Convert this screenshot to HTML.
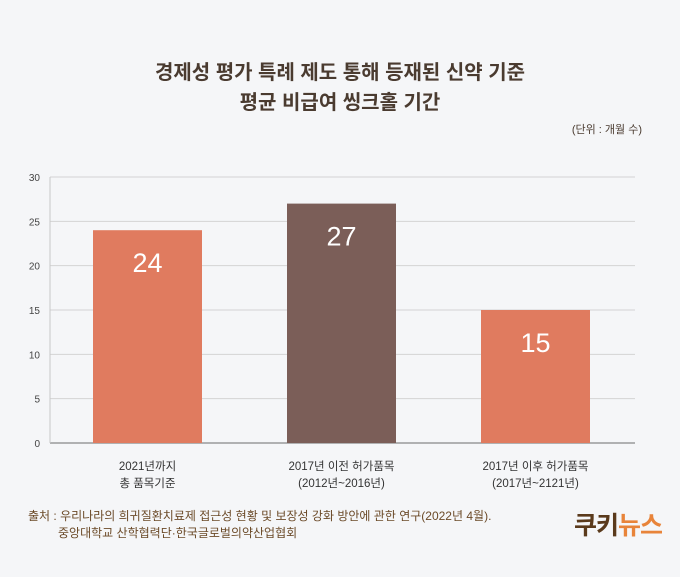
<!DOCTYPE html>
<html><head><meta charset="utf-8"><style>
body{margin:0;width:680px;height:577px;background:#f5f6f8;font-family:"Liberation Sans","Noto Sans CJK KR",sans-serif;position:relative;overflow:hidden}
.t{position:absolute;white-space:nowrap}
</style></head><body>
<div class="t" style="left:0;width:680px;top:58px;text-align:center;font-size:20px;font-weight:bold;color:#4a3b30;line-height:30px">경제성 평가 특례 제도 통해 등재된 신약 기준<br>평균 비급여 씽크홀 기간</div>
<div class="t" style="right:38px;top:121px;font-size:11px;color:#4a3b30">(단위 : 개월 수)</div>
<svg id="c" width="680" height="577" style="position:absolute;left:0;top:0"></svg>
<div class="t" style="left:28px;top:508px;font-size:12px;color:#6b4a28;line-height:17px">출처 : 우리나라의 희귀질환치료제 접근성 현황 및 보장성 강화 방안에 관한 연구(2022년 4월).<br>&nbsp;&nbsp;&nbsp;&nbsp;&nbsp;&nbsp;&nbsp;&nbsp;&nbsp;중앙대학교 산학협력단·한국글로벌의약산업협회</div>
<div class="t" style="left:574px;top:506px;font-size:25px;font-weight:bold;letter-spacing:-1px"><span style="color:#5a3a1c">쿠키</span><span style="color:#e8843a">뉴스</span></div>
<script>
const categories=[["2021년까지","총 품목기준"],["2017년 이전 허가품목","(2012년~2016년)"],["2017년 이후 허가품목","(2017년~2121년)"]];
const values=[24,27,15];
const colors=["#e07b5f","#7b5e58","#e07b5f"];
const ticks=[0,5,10,15,20,25,30];
const svg=document.getElementById('c');const NS="http://www.w3.org/2000/svg";
const y0=443,y1=177,xl=50,xr=635,max=30;
const y=v=>y0-(v/max)*(y0-y1);
const bw=109,step=194,x=i=>93+i*step;
function el(t,a,p){const e=document.createElementNS(NS,t);for(const k in a)e.setAttribute(k,a[k]);(p||svg).appendChild(e);return e;}
ticks.forEach(t=>{
const g=el('line',{x1:xl,x2:xr,y1:y(t),y2:y(t),stroke:t===0?'#9a9a9a':'#d3d3d3','stroke-width':t===0?1.5:1});


const l=el('text',{x:40,y:y(t)+4,'text-anchor':'end','font-size':10,fill:'#444'});l.textContent=t;


});
const ax=el('line',{x1:xl,x2:xl,y1:y1,y2:y0,stroke:'#c8c8c8'});


values.forEach((v,i)=>{
const r=el('rect',{x:x(i),y:y(v),width:bw,height:y0-y(v),fill:colors[i]});


const t=el('text',{x:x(i)+bw/2,y:y(v)+42,'text-anchor':'middle','font-size':27,fill:'#fff'});t.textContent=v;


categories[i].forEach((s,j)=>{
const c=el('text',{x:x(i)+bw/2,y:470+j*17,'text-anchor':'middle','font-size':11.5,fill:'#333'});c.textContent=s;


});
});
</script>
</body></html>
